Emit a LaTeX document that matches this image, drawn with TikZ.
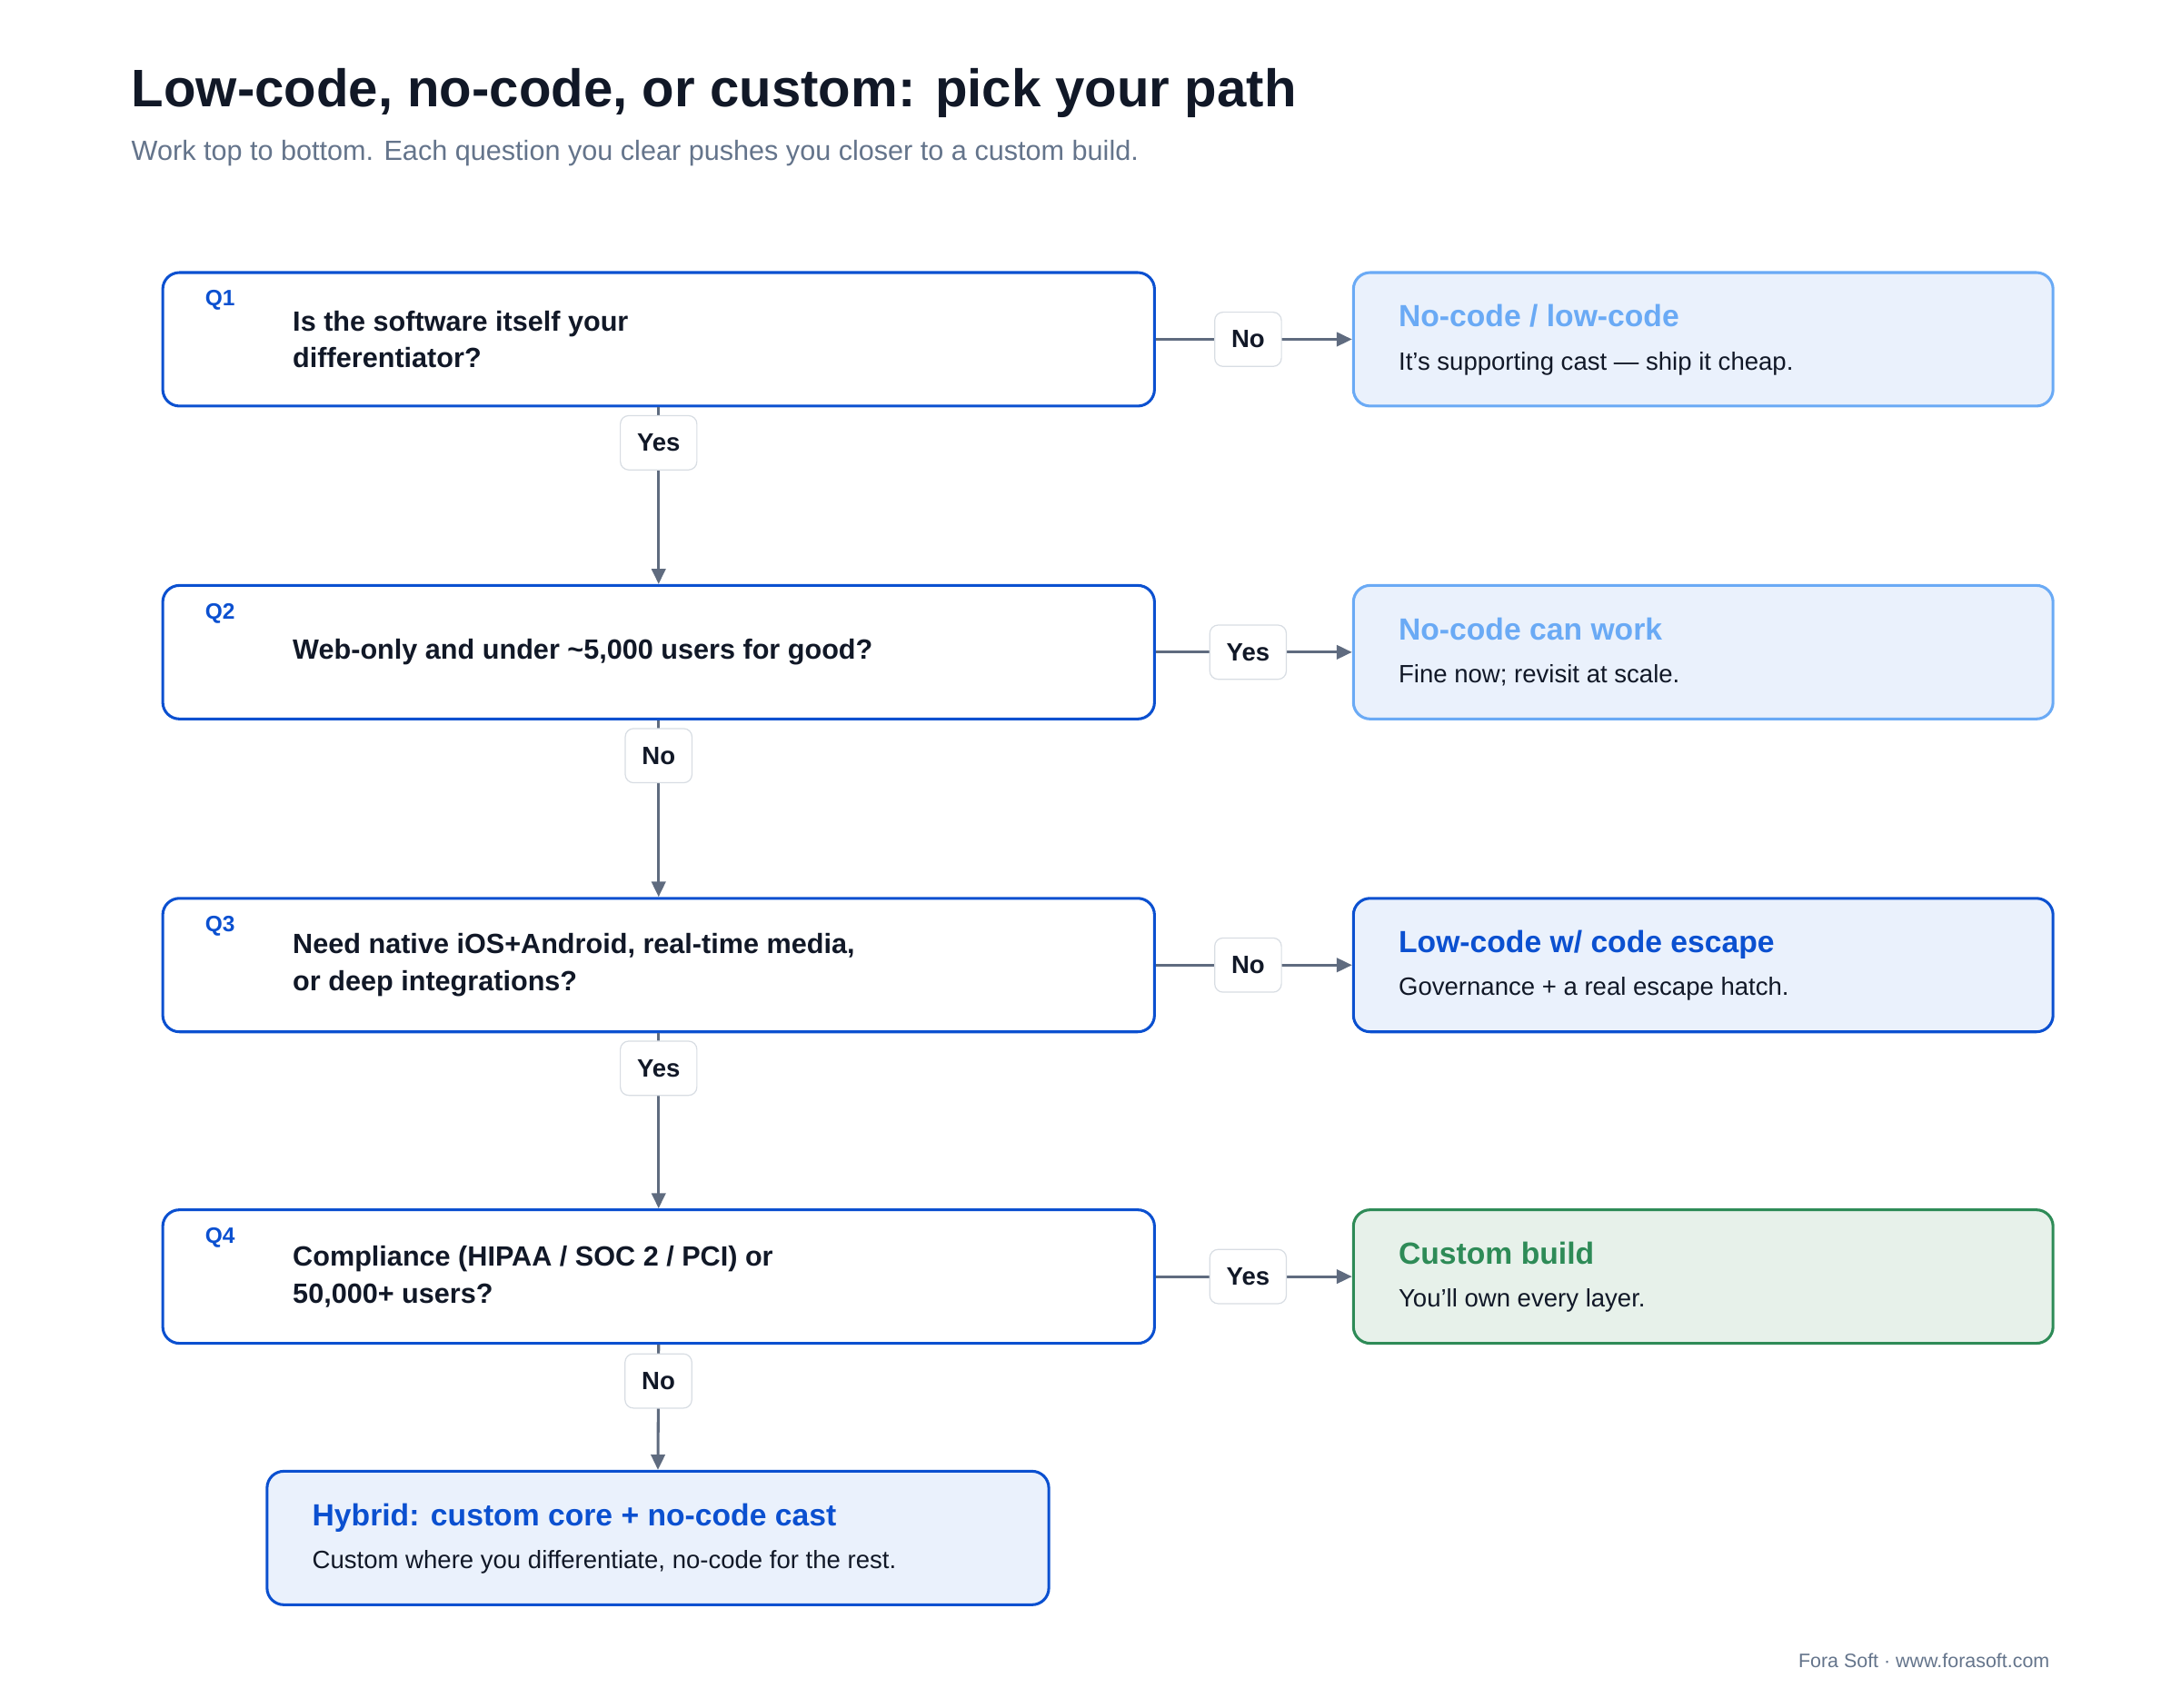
\documentclass[tikz,border=0pt]{standalone}
\usepackage{fontspec}
\setmainfont{Liberation Sans}
\usetikzlibrary{arrows.meta}
\definecolor{ink}{HTML}{111827}
\definecolor{sub}{HTML}{64748B}
\definecolor{qblue}{HTML}{0B50D0}
\definecolor{lblue}{HTML}{6AAAF5}
\definecolor{lfill}{HTML}{EAF1FC}
\definecolor{gr}{HTML}{2E8B57}
\definecolor{gfill}{HTML}{E7F1EA}
\definecolor{arr}{HTML}{5F6B7F}
\definecolor{lab}{HTML}{D8DDE3}
\begin{document}
\begin{tikzpicture}[x=1pt,y=-1pt,
 q/.style={draw=qblue,line width=2pt,rounded corners=12pt,minimum width=713pt,minimum height=96pt,inner sep=0pt},
 res/.style={line width=2pt,rounded corners=12pt,minimum width=503pt,minimum height=96pt,inner sep=0pt},
 ql/.style={anchor=base west,text=qblue,font=\bfseries\fontsize{16}{18}\selectfont},
 qt/.style={anchor=west,text=ink,align=left,font=\bfseries\fontsize{20}{26.5}\selectfont},
 rt/.style={anchor=base west,font=\bfseries\fontsize{22}{26}\selectfont},
 rs/.style={anchor=base west,text=ink,font=\fontsize{18}{22}\selectfont},
 lbl/.style={draw=lab,fill=white,rounded corners=6pt,line width=0.8pt,text=ink,font=\bfseries\fontsize{18}{20}\selectfont,minimum height=39pt,inner xsep=12pt},
 ar/.style={draw=arr,line width=2pt,-{Triangle[length=11pt,width=10pt]}}]
\useasboundingbox (0,0) rectangle (1568,1228);
\node[anchor=base west,text=ink,font=\bfseries\fontsize{38}{44}\selectfont] (title) at (91,77) {Low-code, no-code, or custom: pick your path};
\node[anchor=base west,text=sub,font=\fontsize{20}{24}\selectfont] (subt) at (91,115) {Work top to bottom. Each question you clear pushes you closer to a custom build.};
% questions
\node[q] (q1) at (473.5,244) {};
\node[q] (q2) at (473.5,469) {};
\node[q] (q3) at (473.5,694) {};
\node[q] (q4) at (473.5,918) {};
\node[ql] (l1) at (144,220) {Q1};
\node[ql] (l2) at (144,445) {Q2};
\node[ql] (l3) at (144,670) {Q3};
\node[ql] (l4) at (144,894) {Q4};
\node[qt] (t1) at (207,244) {Is the software itself your\\differentiator?};
\node[qt] (t2) at (207,469) {Web-only and under \textasciitilde5,000 users for good?};
\node[qt] (t3) at (207,694) {Need native iOS+Android, real-time media,\\or deep integrations?};
\node[qt] (t4) at (207,918) {Compliance (HIPAA / SOC 2 / PCI) or\\50,000+ users?};
% results
\node[res,draw=lblue,fill=lfill] (r1) at (1224.5,244) {};
\node[res,draw=lblue,fill=lfill] (r2) at (1224.5,469) {};
\node[res,draw=qblue,fill=lfill] (r3) at (1224.5,694) {};
\node[res,draw=gr,fill=gfill] (r4) at (1224.5,918) {};
\node[res,draw=qblue,fill=lfill,minimum width=562pt] (h) at (473,1106) {};
\node[rt,text=lblue] (r1t) at (1002,235) {No-code / low-code};
\node[rs] (r1s) at (1002,266) {It's supporting cast — ship it cheap.};
\node[rt,text=lblue] (r2t) at (1002,460) {No-code can work};
\node[rs] (r2s) at (1002,491) {Fine now; revisit at scale.};
\node[rt,text=qblue] (r3t) at (1002,685) {Low-code w/ code escape};
\node[rs] (r3s) at (1002,716) {Governance + a real escape hatch.};
\node[rt,text=gr] (r4t) at (1002,909) {Custom build};
\node[rs] (r4s) at (1002,940) {You'll own every layer.};
\node[rt,text=qblue] (ht) at (221,1097) {Hybrid: custom core + no-code cast};
\node[rs] (hs) at (221,1128) {Custom where you differentiate, no-code for the rest.};
% connectors
\draw[ar] (q1.east) -- (r1.west) node[lbl,pos=0.47] {No};
\draw[ar] (q2.east) -- (r2.west) node[lbl,pos=0.47] {Yes};
\draw[ar] (q3.east) -- (r3.west) node[lbl,pos=0.47] {No};
\draw[ar] (q4.east) -- (r4.west) node[lbl,pos=0.47] {Yes};
\draw[ar] (q1.south) -- (q2.north) node[lbl,pos=0.2] {Yes};
\draw[ar] (q2.south) -- (q3.north) node[lbl,pos=0.2] {No};
\draw[ar] (q3.south) -- (q4.north) node[lbl,pos=0.2] {Yes};
\draw[ar] (q4.south) -- (h.north) node[lbl,pos=0.29] {No};
\node[anchor=base east,text=sub,font=\fontsize{14}{16}\selectfont] (foot) at (1477,1199) {Fora Soft · www.forasoft.com};
\end{tikzpicture}
\end{document}
